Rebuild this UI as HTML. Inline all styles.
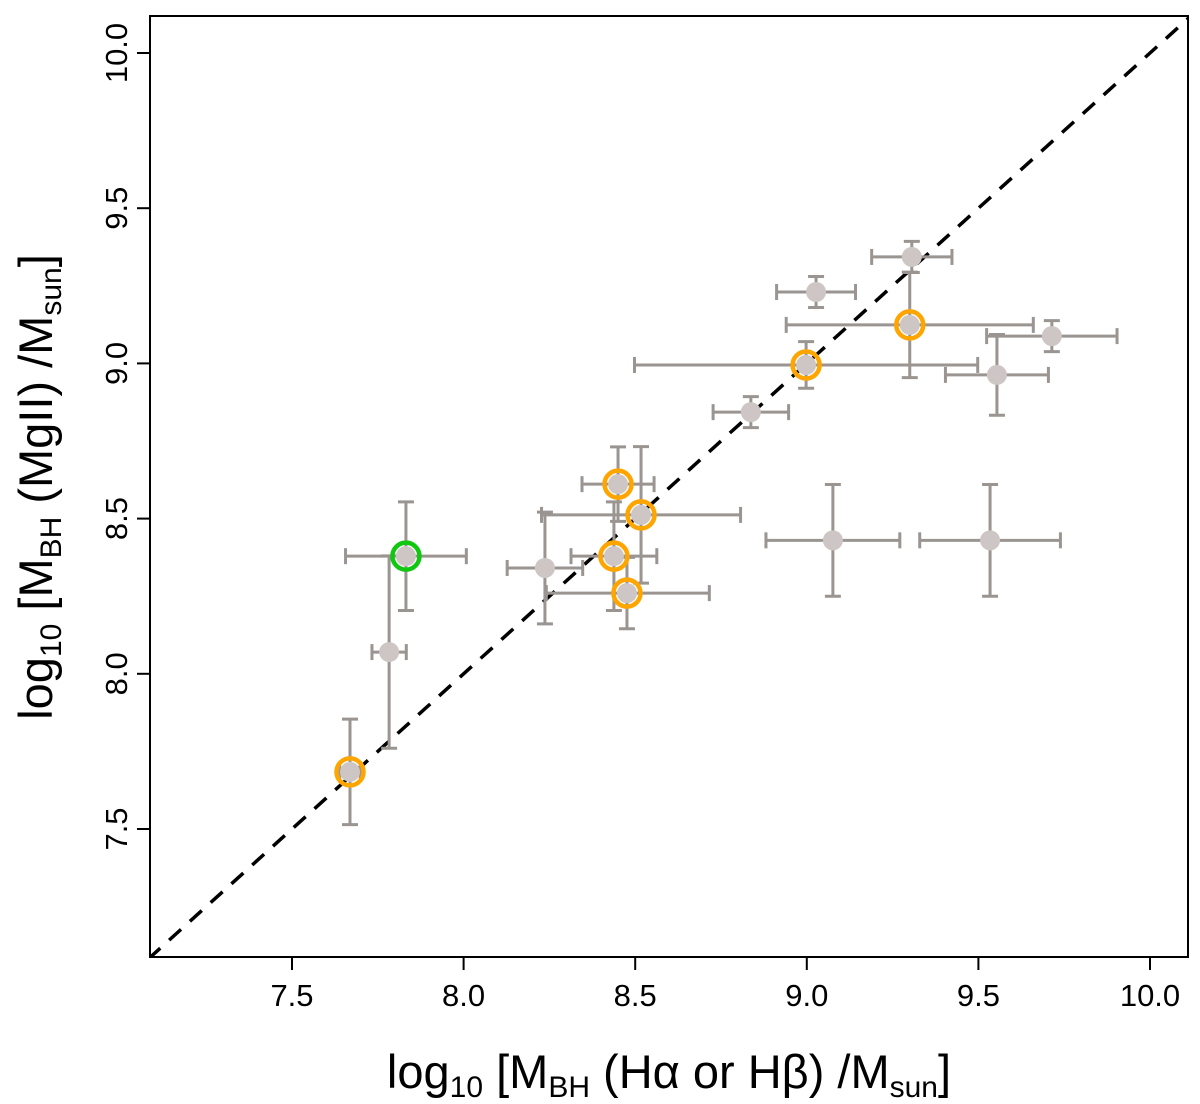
<!DOCTYPE html>
<html><head><meta charset="utf-8"><style>
body{margin:0;background:#fff;}
svg{display:block;font-family:"Liberation Sans",sans-serif;}
</style></head><body>
<svg id="chart" width="1200" height="1104">
<defs><clipPath id="clip"><rect x="150" y="16" width="1038" height="941"/></clipPath></defs>
<g id="marks" clip-path="url(#clip)"></g>
<rect x="150" y="16" width="1038" height="941" fill="none" stroke="#000" stroke-width="2"/>
<g id="axes"></g>
<text x="669" y="1088" text-anchor="middle" font-size="47">log<tspan font-size="30" dy="9">10</tspan><tspan dy="-9"> [M</tspan><tspan font-size="30" dy="9">BH</tspan><tspan dy="-9"> (Hα or Hβ) /M</tspan><tspan font-size="30" dy="9">sun</tspan><tspan dy="-9">]</tspan></text>
<text transform="translate(52,487) rotate(-90)" text-anchor="middle" font-size="47">log<tspan font-size="30" dy="9">10</tspan><tspan dy="-9"> [M</tspan><tspan font-size="30" dy="9">BH</tspan><tspan dy="-9"> (MgII) /M</tspan><tspan font-size="30" dy="9">sun</tspan><tspan dy="-9">]</tspan></text>
</svg>
<script>
const xVals=[9.306,9.027,9.30,9.714,8.998,9.554,8.837,8.45,8.517,8.237,7.832,8.438,9.076,9.534,8.476,7.783,7.669];
const yVals=[9.343,9.23,9.124,9.088,8.995,8.963,8.843,8.611,8.512,8.341,8.379,8.379,8.43,8.43,8.26,8.07,7.684];
const xErrLo=[0.117,0.115,0.36,0.19,0.5,0.15,0.11,0.105,0.29,0.11,0.176,0.125,0.195,0.205,0.235,0.05,0.03];
const xErrHi=[0.117,0.115,0.36,0.19,0.5,0.15,0.11,0.105,0.29,0.11,0.176,0.125,0.195,0.205,0.24,0.05,0.03];
const yErrLo=[0.05,0.05,0.17,0.05,0.075,0.13,0.05,0.12,0.22,0.18,0.175,0.175,0.18,0.18,0.115,0.31,0.17];
const yErrHi=[0.05,0.05,0.17,0.05,0.075,0.13,0.05,0.12,0.22,0.18,0.175,0.175,0.18,0.18,0.115,0.31,0.17];
yErrLo[15]=0.31; yErrHi[15]=0.31;
const ringColor=["","","orange","","orange","","","orange","orange","","green","orange","","","orange","","orange"];
const xTicks=[7.5,8.0,8.5,9.0,9.5,10.0];
const yTicks=[7.5,8.0,8.5,9.0,9.5,10.0];
const xTickLabels=["7.5","8.0","8.5","9.0","9.5","10.0"];
const yTickLabels=["7.5","8.0","8.5","9.0","9.5","10.0"];
const X=v=>292+(v-7.5)*343.2;
const Y=v=>829-(v-7.5)*310.4;
const NS="http://www.w3.org/2000/svg";
function mk(parent,tag,attrs){const e=document.createElementNS(NS,tag);for(const k in attrs)e.setAttribute(k,attrs[k]);parent.appendChild(e);return e;}
const marks=document.getElementById('marks');
const axes=document.getElementById('axes');
const diag=mk(marks,'line',{x1:X(6.9),y1:Y(6.9),x2:X(10.3),y2:Y(10.3),stroke:'#000','stroke-width':3.5,'stroke-dasharray':'16,12'});


const gc='#9a9590';
for(let i=0;i<xVals.length;i++){
  const g=mk(marks,'g',{stroke:gc,'stroke-width':3,fill:'none'});
  
  
  const cx=X(xVals[i]),cy=Y(yVals[i]);
  const x0=X(xVals[i]-xErrLo[i]),x1=X(xVals[i]+xErrHi[i]);
  const y0=Y(yVals[i]-yErrLo[i]),y1=Y(yVals[i]+yErrHi[i]);
  mk(g,'line',{x1:x0,y1:cy,x2:x1,y2:cy});
  mk(g,'line',{x1:x0,y1:cy-8,x2:x0,y2:cy+8});
  mk(g,'line',{x1:x1,y1:cy-8,x2:x1,y2:cy+8});
  mk(g,'line',{x1:cx,y1:y0,x2:cx,y2:y1});
  mk(g,'line',{x1:cx-8,y1:y0,x2:cx+8,y2:y0});
  mk(g,'line',{x1:cx-8,y1:y1,x2:cx+8,y2:y1});
}
for(let i=0;i<xVals.length;i++){
  const c=mk(marks,'circle',{cx:X(xVals[i]),cy:Y(yVals[i]),r:10,fill:'#cdc6c4'});
  
  
  if(ringColor[i]){
    const r=mk(marks,'circle',{cx:X(xVals[i]),cy:Y(yVals[i]),r:13.5,fill:'none',stroke:ringColor[i]==='green'?'#11c811':'#ffa500','stroke-width':4.5});
    
    
  }
}
xTicks.forEach((t,i)=>{
  mk(axes,'line',{x1:X(t),y1:957,x2:X(t),y2:970,stroke:'#000','stroke-width':2});
  const tx=mk(axes,'text',{x:X(t),y:1006,'text-anchor':'middle','font-size':31});
  tx.textContent=xTickLabels[i];
  
  
});
yTicks.forEach((t,i)=>{
  mk(axes,'line',{x1:137,y1:Y(t),x2:150,y2:Y(t),stroke:'#000','stroke-width':2});
  const tx=mk(axes,'text',{x:0,y:0,'text-anchor':'middle','font-size':31,transform:`translate(127,${Y(t)}) rotate(-90)`});
  tx.textContent=yTickLabels[i];
  
  
});
</script>
</body></html>
